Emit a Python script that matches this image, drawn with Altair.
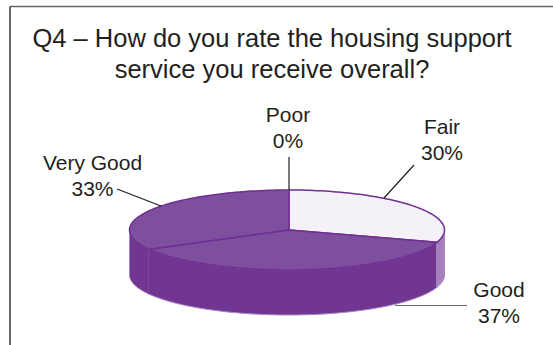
import math
import altair as alt
import pandas as pd

# Survey responses, clockwise from twelve o'clock
categories = ["Poor", "Fair", "Good", "Very Good"]
shares = [0, 30, 37, 33]

title_lines = ["Q4 – How do you rate the housing support", "service you receive overall?"]

W, H = 553, 345
CX, CY, RX_RIGHT, RX_LEFT, RY, DEPTH = 289, 230, 155.5, 159.5, 40, 45

TOP_COLORS = {"Fair": "#f4f2f8", "Good": "#7f4f9f", "Very Good": "#7f4f9f"}
WALL_COLORS = {"Fair": "#a67fbd", "Good": "#713592", "Very Good": "#713592"}
EDGE = "#702f91"
INK = "#231f20"

xs = alt.Scale(domain=[0, W], nice=False, zero=False)
ys = alt.Scale(domain=[H, 0], nice=False, zero=False)
X = alt.X("x:Q", scale=xs, axis=None)
Y = alt.Y("y:Q", scale=ys, axis=None)
X2 = alt.X2("x2:Q")
Y2 = alt.Y2("y2:Q")


def rim(deg, drop=0.0):
    a = math.radians(deg)
    s = math.sin(a)
    return CX + (RX_RIGHT if s > 0 else RX_LEFT) * s, CY - RY * math.cos(a) + drop


def sweep(a0, a1, drop=0.0):
    n = max(2, int(abs(a1 - a0) / 1.5) + 1)
    return [rim(a0 + (a1 - a0) * i / (n - 1), drop) for i in range(n)]


def polygon(points, fill, stroke, width=1.4):
    pts = points + [points[0]]
    df = pd.DataFrame({"x": [p[0] for p in pts], "y": [p[1] for p in pts], "i": range(len(pts))})
    return alt.Chart(df).mark_line(
        fill=fill, stroke=stroke, strokeWidth=width, strokeJoin="round", interpolate="linear"
    ).encode(x=X, y=Y, order=alt.Order("i:Q"))


layers = []

# Slice boundaries in degrees, derived from the response shares
spans = {}
start = 0.0
for name, value in zip(categories, shares):
    end = start + value * 3.6
    spans[name] = (start, end)
    start = end

# Front walls of the disc: only the arc between 90 and 270 degrees faces the viewer
for name in ["Very Good", "Good", "Fair"]:
    a0, a1 = spans[name]
    lo, hi = max(a0, 90), min(a1, 270)
    if hi > lo:
        pts = sweep(lo, hi) + sweep(hi, lo, DEPTH)
        layers.append(polygon(pts, WALL_COLORS[name], "#a988c2", 1.0))

# Dark seam where the Good and Very Good walls meet
seam_x, seam_y = rim(spans["Good"][1])
seam = pd.DataFrame({"x": [seam_x], "y": [seam_y], "x2": [seam_x], "y2": [seam_y + DEPTH]})
layers.append(alt.Chart(seam).mark_rule(strokeWidth=1.2, color="#662a88").encode(x=X, y=Y, x2=X2, y2=Y2))

# Top faces
for name in ["Fair", "Good", "Very Good"]:
    a0, a1 = spans[name]
    layers.append(polygon([(CX, CY)] + sweep(a0, a1), TOP_COLORS[name], EDGE, 1.5))

# Frame open at the right and bottom
frame = pd.DataFrame({"x": [10, 10], "y": [6.5, 6.5], "x2": [W, 10], "y2": [6.5, H], "c": ["#666666", "#333333"]})
layers.append(alt.Chart(frame).mark_rule(strokeWidth=1.5).encode(
    x=X, y=Y, x2=X2, y2=Y2, color=alt.Color("c:N", scale=None)))

# Leader lines from each label to its slice
leaders = pd.DataFrame({
    "x": [289, 414, 395, 117],
    "y": [157, 165, 305.5, 189],
    "x2": [289, 384, 467, 161],
    "y2": [190, 198, 305.5, 206],
    "c": [INK, INK, "#666666", INK],
})
layers.append(alt.Chart(leaders).mark_rule(strokeWidth=1.2).encode(
    x=X, y=Y, x2=X2, y2=Y2, color=alt.Color("c:N", scale=None)))

# Category and percentage labels
label_pos = {"Poor": (288, 122), "Fair": (442, 134), "Good": (499, 297), "Very Good": (92.5, 170)}
rows = []
for name, value in zip(categories, shares):
    px, py = label_pos[name]
    rows.append({"x": px, "y": py, "t": name})
    rows.append({"x": px, "y": py + 26, "t": f"{value}%"})
layers.append(alt.Chart(pd.DataFrame(rows)).mark_text(
    font="Liberation Sans", fontSize=21, color=INK, align="center", baseline="alphabetic"
).encode(x=X, y=Y, text="t:N"))

# Two-line heading
head = pd.DataFrame({"x": [272, 272], "y": [46.5, 77.5], "t": title_lines})
layers.append(alt.Chart(head).mark_text(
    font="Liberation Sans", fontSize=25.5, color=INK, align="center", baseline="alphabetic"
).encode(x=X, y=Y, text="t:N"))

chart = alt.layer(*layers).properties(
    width=W, height=H, padding=0, background="white",
    autosize=alt.AutoSizeParams(type="none"),
).configure_view(strokeWidth=0)

chart.save("out.html", embed_options={"renderer": "svg", "actions": False})
